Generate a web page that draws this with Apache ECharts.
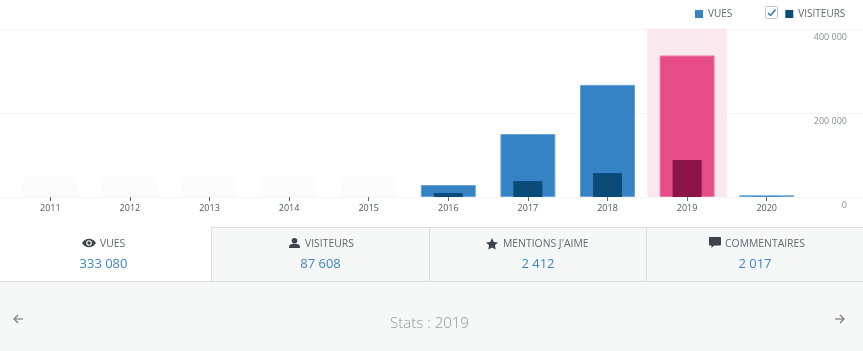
<!DOCTYPE html>
<html><head><meta charset="utf-8">
<style>html,body{margin:0;padding:0;background:#fff}#c{width:863px;height:351px}</style>
<script src="https://cdn.jsdelivr.net/npm/echarts@6/dist/echarts.min.js"></script>
</head><body><div id="c"></div>
<script>
const years = ['2011','2012','2013','2014','2015','2016','2017','2018','2019','2020'];
const vues = [null,null,null,null,null,28500,150000,267000,337000,4000];
const visiteurs = [null,null,null,null,null,9500,38000,57000,88000,500];
const placeholder = [60000,60000,60000,60000,60000,null,null,null,null,null];
const selectedBand = [null,null,null,null,null,null,null,null,402000,null];
const selectedYear = '2019';
const yTicks = {min:0,max:400000,interval:200000};
const tabs = [
  {label:'VUES', value:'333 080'},
  {label:'VISITEURS', value:'87 608'},
  {label:"MENTIONS J'AIME", value:'2 412'},
  {label:'COMMENTAIRES', value:'2 017'}
];
const footerTitle = 'Stats : 2019';

const FONT = '"Open Sans", sans-serif';
const C = {vues:'#3582c4',vuesB:'#68a3d6',vis:'#0a4b78',sel:'#e64c86',selB:'#ee7ba6',selDark:'#8b1548',band:'#f9e9ef',
  grid:'#f6f6f6',txt:'#646970',icon:'#3c434a',val:'#3f86c6',panel:'#f6f7f7',line:'#dcdcde'};

const chart = echarts.init(document.getElementById('c'),null,{renderer:'canvas'});
const colored = (arr,col,sel,border,selBorder) => arr.map((v,i)=>({value:v,itemStyle:{
  color: years[i]===selectedYear?sel:col,
  borderColor: border ? (years[i]===selectedYear?selBorder:border) : undefined,
  borderWidth: border?1:0}}));

const rect=(x,y,w,h,fill,z,r)=>({type:'rect',shape:{x,y,width:w,height:h,r:r||0},style:{fill},silent:true,z:z||1});
const txt=(x,y,text,size,fill,align,weight,z)=>({type:'text',x,y,silent:true,z:z||3,
  style:{text,fontFamily:FONT,fontSize:size,fill,align:align||'center',verticalAlign:'middle',fontWeight:weight||400}});
const poly=(points,fill)=>({type:'polygon',shape:{points},style:{fill:fill||C.icon},silent:true,z:3});
const circ=(cx,cy,r,fill,z)=>({type:'circle',shape:{cx,cy,r},style:{fill},silent:true,z:z||3});
const pline=(points,col,lw)=>({type:'polyline',shape:{points},style:{fill:null,stroke:col,lineWidth:lw},silent:true,z:3});

const LABEL_SIZE = 10.4, VALUE_SIZE = 13;
const graphics=[
  rect(211,227,652,54,C.panel),
  rect(0,282,863,69,C.panel),
  rect(211,227,652,1,C.line,2),
  rect(0,281,863,1,C.line,2),
  rect(211,227,1,54,C.line,2),
  rect(429,228,1,53,C.line,2),
  rect(646,228,1,53,C.line,2),
  // eye icon
  poly([[82,243],[84,240.500],[87,239],[89,238.800],[91,239],[94,240.500],[96,243],[94,245.500],[91,247],[89,247.200],[87,247],[84,245.500]]),
  {type:'circle',shape:{cx:89,cy:243,r:2.800},style:{fill:'#fff'},silent:true,z:4},
  {type:'circle',shape:{cx:89,cy:243,r:1.700},style:{fill:C.icon},silent:true,z:5},
  txt(100,244,tabs[0].label,LABEL_SIZE,C.txt,'left'),
  txt(103.500,264,tabs[0].value,VALUE_SIZE,C.val),
  // person icon
  circ(294.500,240.800,2.800,C.icon),
  poly([[289,248],[289,246.300],[290,244.800],[292,244],[297,244],[299,244.800],[300,246.300],[300,248]]),
  txt(305,244,tabs[1].label,LABEL_SIZE,C.txt,'left'),
  txt(320.500,264,tabs[1].value,VALUE_SIZE,C.val),
  // star icon
  poly([[492,238],[493.800,241.900],[498,242.400],[494.900,245.300],[495.700,249.500],[492,247.400],[488.300,249.500],[489.100,245.300],[486,242.400],[490.200,241.900]]),
  txt(503,244,tabs[2].label,LABEL_SIZE,C.txt,'left'),
  txt(538,264,tabs[2].value,VALUE_SIZE,C.val),
  // comment icon
  rect(709,237,12,8.500,C.icon,3,1),
  poly([[711.500,245],[714.500,245],[711.500,248]]),
  txt(725,244,tabs[3].label,LABEL_SIZE,C.txt,'left'),
  txt(755,264,tabs[3].value,VALUE_SIZE,C.val),
  // footer
  txt(429.500,324,footerTitle,15,'#92979c','center',300),
  pline([[23,319],[14,319]],'#787c82',1.200),
  pline([[18,315],[14,319],[18,323]],'#787c82',1.200),
  pline([[835,319],[844,319]],'#787c82',1.200),
  pline([[840,315],[844,319],[840,323]],'#787c82',1.200),
  // checkbox
  {type:'rect',shape:{x:765.500,y:6.500,width:12,height:12,r:1},style:{fill:'#fff',stroke:'#c3c4c7',lineWidth:1},silent:true,z:3},
  pline([[768,13],[770.500,15.500],[775.500,9.500]],'#2271b1',1.400)
];

chart.setOption({
  animation:false,
  backgroundColor:'#fff',
  textStyle:{fontFamily:FONT},
  grid:[
    {left:10.500,right:56.500,top:29,height:168},
    {left:0,right:0,top:29,height:168}
  ],
  legend:{
    left:690,top:4,itemWidth:8,itemHeight:8,itemGap:53,icon:'rect',selectedMode:false,
    data:['VUES','VISITEURS'],
    textStyle:{color:C.txt,fontSize:10,fontFamily:FONT}
  },
  xAxis:[
    {type:'category',gridIndex:0,data:years,
      axisLine:{lineStyle:{color:C.grid}},
      axisTick:{show:true,alignWithLabel:true,length:4,lineStyle:{color:'#666'}},
      axisLabel:{color:'#50575e',fontSize:9,margin:7,fontFamily:FONT,interval:0},z:5},
    {type:'category',gridIndex:0,data:years,show:false},
    {type:'category',gridIndex:1,data:years,show:false},
    {type:'category',gridIndex:0,data:years,show:false}
  ],
  yAxis:[
    {type:'value',gridIndex:0,min:yTicks.min,max:yTicks.max,interval:yTicks.interval,show:false,splitLine:{show:false}},
    {type:'value',gridIndex:1,position:'right',min:yTicks.min,max:yTicks.max,interval:yTicks.interval,
      axisLine:{show:false},axisTick:{show:false},
      splitLine:{show:true,lineStyle:{color:C.grid,width:1}},
      axisLabel:{inside:true,margin:16,align:'right',verticalAlign:'top',padding:[4,0,0,0],color:'#8c8f94',fontSize:9,fontFamily:FONT,
        formatter:v=>String(v).replace(/\B(?=(\d{3})+$)/g,' ')}}
  ],
  series:[
    {name:'selected',type:'bar',xAxisIndex:3,yAxisIndex:0,data:selectedBand,barWidth:'100%',silent:true,z:0,itemStyle:{color:C.band}},
    {name:'placeholder',type:'bar',xAxisIndex:0,yAxisIndex:0,data:placeholder,barWidth:55,barGap:'-100%',silent:true,z:1,
      itemStyle:{color:new echarts.graphic.LinearGradient(0,0,0,1,[{offset:0,color:'rgba(252,252,252,0)'},{offset:.4,color:'#fcfcfc'},{offset:1,color:'#fbfbfb'}])}},
    {name:'VUES',type:'bar',xAxisIndex:0,yAxisIndex:0,barWidth:55,barGap:'-100%',z:3,itemStyle:{color:C.vues},
      data:colored(vues,C.vues,C.sel,C.vuesB,C.selB)},
    {name:'VISITEURS',type:'bar',xAxisIndex:1,yAxisIndex:0,barWidth:29,z:4,itemStyle:{color:C.vis},
      data:colored(visiteurs,C.vis,C.selDark)}
  ],
  graphic:{elements:graphics}
});
</script></body></html>
